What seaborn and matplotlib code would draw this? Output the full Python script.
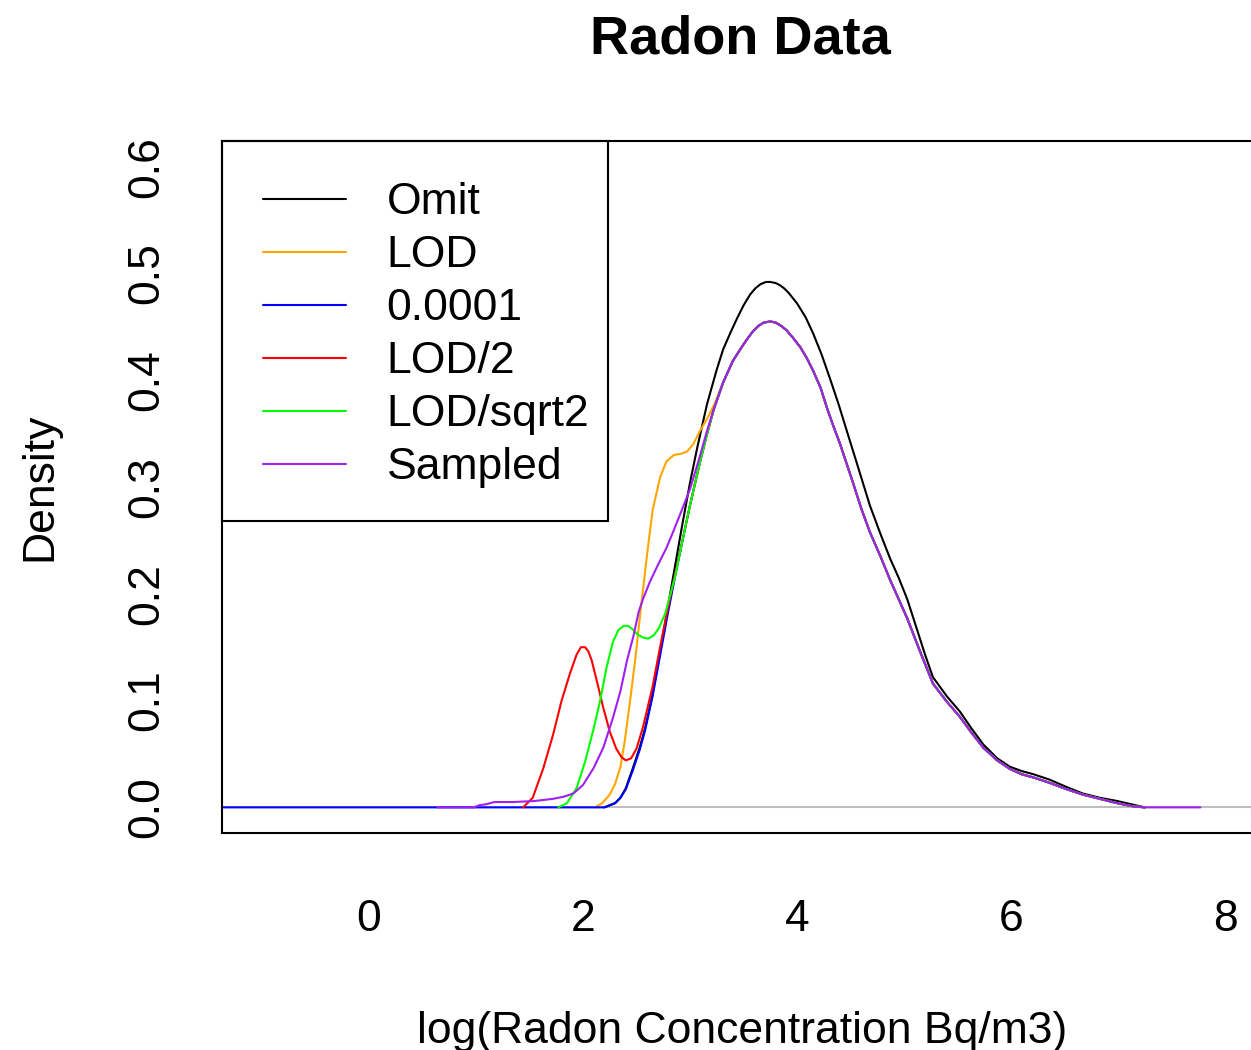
import matplotlib
matplotlib.use("Agg")
import matplotlib.pyplot as plt
from matplotlib.lines import Line2D
from matplotlib.patches import Rectangle
import numpy as np
import pandas as pd
import seaborn as sns

# ---------------- data ----------------
series_names = ["Omit", "LOD", "0.0001", "LOD/2", "LOD/sqrt2", "Sampled"]
series_colors = ["#000000", "#FFA500", "#0000FF", "#FF0000", "#00FF00", "#A020F0"]

# common main body shared by all imputed series (x >= 3.31)
body_x = [3.31, 3.40, 3.47, 3.53, 3.59, 3.64, 3.69, 3.75, 3.80, 3.85, 3.90, 3.96, 4.03, 4.09, 4.15,
          4.22, 4.28, 4.34, 4.40, 4.47, 4.52, 4.60, 4.68, 4.78, 4.87, 4.95, 5.03, 5.15, 5.27,
          5.40, 5.52, 5.63, 5.74, 5.87, 5.99, 6.10, 6.21, 6.36, 6.52, 6.67, 6.83, 6.99, 7.14, 7.25]
body_y = [0.398, 0.418, 0.429, 0.438, 0.446, 0.451, 0.454, 0.455, 0.454, 0.451, 0.447, 0.440, 0.431,
          0.421, 0.409, 0.393, 0.374, 0.357, 0.341, 0.320, 0.305, 0.280, 0.258, 0.235, 0.213, 0.195,
          0.177, 0.146, 0.116, 0.099, 0.085, 0.070, 0.056, 0.044, 0.036, 0.031, 0.028, 0.023, 0.017,
          0.012, 0.008, 0.004, 0.001, 0.000]

omit_x = [2.20, 2.30, 2.35, 2.40, 2.47, 2.53, 2.58, 2.65, 2.72, 2.79, 2.86, 2.93, 3.00, 3.07,
          3.16, 3.25, 3.31, 3.38, 3.44, 3.50, 3.56, 3.61, 3.66, 3.71, 3.75, 3.80, 3.84, 3.88,
          3.92, 3.96, 4.00, 4.08, 4.15, 4.23, 4.31, 4.39, 4.47, 4.56, 4.68, 4.78, 4.87, 4.95,
          5.03, 5.12, 5.20, 5.27, 5.40, 5.52, 5.63, 5.74, 5.87, 5.99, 6.10, 6.21, 6.36, 6.52,
          6.67, 6.83, 6.99, 7.12, 7.25]
omit_y = [0.000, 0.004, 0.009, 0.018, 0.038, 0.056, 0.074, 0.106, 0.146, 0.186, 0.226, 0.266, 0.304, 0.338,
          0.378, 0.410, 0.429, 0.445, 0.458, 0.470, 0.480, 0.486, 0.490, 0.492, 0.492, 0.491, 0.489, 0.486,
          0.482, 0.477, 0.472, 0.459, 0.444, 0.424, 0.401, 0.377, 0.351, 0.322, 0.283, 0.256, 0.233, 0.215,
          0.195, 0.167, 0.142, 0.122, 0.104, 0.090, 0.074, 0.059, 0.046, 0.038, 0.034, 0.031, 0.026, 0.019,
          0.013, 0.009, 0.006, 0.003, 0.000]

lod_x = [2.11, 2.18, 2.25, 2.30, 2.35, 2.39, 2.44, 2.49, 2.53, 2.60, 2.65, 2.72, 2.78, 2.85,
         2.91, 2.97, 3.03, 3.09, 3.16, 3.23]
lod_y = [0.000, 0.004, 0.012, 0.022, 0.038, 0.062, 0.100, 0.140, 0.177, 0.238, 0.278, 0.309, 0.324, 0.330,
         0.331, 0.333, 0.340, 0.352, 0.364, 0.378]

small_x = [-1.50, 2.20, 2.30, 2.35, 2.40, 2.47, 2.53, 2.58, 2.65, 2.72, 2.79, 2.86, 2.93, 3.00,
           3.09, 3.16, 3.22]
small_y = [0.000, 0.000, 0.004, 0.009, 0.017, 0.036, 0.054, 0.072, 0.104, 0.142, 0.180, 0.216, 0.250, 0.283,
           0.322, 0.350, 0.372]

half_x = [1.44, 1.53, 1.63, 1.72, 1.80, 1.88, 1.94, 1.98, 2.02, 2.05, 2.08, 2.13, 2.19, 2.25, 2.31,
          2.36, 2.40, 2.45, 2.50, 2.56, 2.65, 2.72, 2.79, 2.86, 2.93, 3.00, 3.09, 3.16, 3.22]
half_y = [0.000, 0.009, 0.037, 0.068, 0.100, 0.126, 0.143, 0.150, 0.150, 0.146, 0.138, 0.118, 0.093, 0.071,
          0.055, 0.047, 0.044, 0.046, 0.055, 0.075, 0.113, 0.150, 0.185, 0.218, 0.250, 0.283, 0.322,
          0.350, 0.372]

sqrt2_x = [1.77, 1.85, 1.94, 2.02, 2.10, 2.16, 2.22, 2.28, 2.33, 2.38, 2.42, 2.46, 2.51, 2.56,
           2.61, 2.66, 2.71, 2.77, 2.86, 2.93, 3.00, 3.09, 3.16, 3.22]
sqrt2_y = [0.000, 0.004, 0.018, 0.043, 0.074, 0.100, 0.131, 0.155, 0.166, 0.170, 0.170, 0.167, 0.162, 0.159,
           0.158, 0.161, 0.168, 0.182, 0.216, 0.250, 0.283, 0.322, 0.350, 0.372]

sampled_x = [0.64, 0.98, 1.03, 1.10, 1.17, 1.35, 1.55, 1.72, 1.82, 1.91, 2.00, 2.10, 2.19, 2.28,
             2.35, 2.41, 2.47, 2.52, 2.56, 2.62, 2.69, 2.78, 2.83, 2.91, 3.00, 3.09, 3.16, 3.22]
sampled_y = [0.000, 0.000, 0.002, 0.003, 0.005, 0.005, 0.006, 0.008, 0.010, 0.013, 0.021, 0.037, 0.056, 0.084,
             0.109, 0.137, 0.160, 0.183, 0.195, 0.210, 0.225, 0.243, 0.255, 0.275, 0.298, 0.328, 0.353, 0.372]
sampled_tail_x = [7.77]
sampled_tail_y = [0.000]

x_ticks = [0, 2, 4, 6, 8]
y_ticks = [0.0, 0.1, 0.2, 0.3, 0.4, 0.5, 0.6]
y_tick_labels = ["0.0", "0.1", "0.2", "0.3", "0.4", "0.5", "0.6"]

# ---------------- assemble long-form table ----------------
parts = {
    "Omit": (omit_x, omit_y),
    "LOD": (lod_x + body_x, lod_y + body_y),
    "0.0001": (small_x + body_x, small_y + body_y),
    "LOD/2": (half_x + body_x, half_y + body_y),
    "LOD/sqrt2": (sqrt2_x + body_x, sqrt2_y + body_y),
    "Sampled": (sampled_x + body_x + sampled_tail_x, sampled_y + body_y + sampled_tail_y),
}
frames = []
for name in series_names:
    xs, ys = parts[name]
    frames.append(pd.DataFrame({"x": xs, "density": ys, "method": name}))
df = pd.concat(frames, ignore_index=True)

# ---------------- figure ----------------
sns.set_theme(style="white")
plt.rcParams["font.family"] = ["Liberation Sans", "DejaVu Sans"]
plt.rcParams["text.color"] = "black"
plt.rcParams["axes.labelcolor"] = "black"

W, H = 1251, 1050
fig = plt.figure(figsize=(W / 100, H / 100), dpi=100)
ax_left, ax_top, ax_bottom = 222, 141, 833
xmin, xmax = -1.374, 8.31
px_per_unit = 107.0
ax_w = (xmax - xmin) * px_per_unit
ax_h = ax_bottom - ax_top
ax = fig.add_axes([ax_left / W, (H - ax_bottom) / H, ax_w / W, ax_h / H])

ax.axhline(0, color="#BEBEBE", lw=1.5, zorder=1)
sns.lineplot(data=df, x="x", y="density", hue="method", hue_order=series_names,
             palette=dict(zip(series_names, series_colors)), estimator=None, sort=False,
             linewidth=1.5, legend=False, ax=ax, zorder=2)

ax.set_xlim(xmin, xmax)
ax.set_ylim(-0.024, 0.624)
ax.set_xticks(x_ticks)
ax.set_xticklabels([str(t) for t in x_ticks])
ax.set_yticks(y_ticks)
ax.set_yticklabels(y_tick_labels, rotation=90, va="center")
ax.set_xlabel("")
ax.set_ylabel("")
for s in ax.spines.values():
    s.set_visible(True)
    s.set_color("black")
    s.set_linewidth(1.5)
ax.tick_params(axis="both", which="major", direction="out", length=19.5, width=1.5,
               color="black", labelsize=32, labelcolor="black")
ax.tick_params(axis="x", pad=28)
ax.tick_params(axis="y", pad=20)

# legend box (drawn as a rectangle, like R's legend frame)
leg_right, leg_bottom = 608, 521
ax.add_patch(Rectangle((0, 1 - (leg_bottom - ax_top) / ax_h), (leg_right - ax_left) / ax_w,
                       (leg_bottom - ax_top) / ax_h, transform=ax.transAxes, fill=False,
                       edgecolor="black", lw=1.5, zorder=5, clip_on=False))
handles = [Line2D([0], [0], color=c, lw=1.5) for c in series_colors]
leg = ax.legend(handles, series_names, loc="upper left", bbox_to_anchor=(0, 1),
                borderaxespad=0, fontsize=32, frameon=False, handlelength=1.85,
                handletextpad=0.92, labelspacing=0.27, borderpad=0.93)
for t in leg.get_texts():
    t.set_color("black")

fig.text(740 / W, 1 - 53 / H, "Radon Data", ha="center", va="baseline",
         fontsize=39, fontweight="bold", color="black")
fig.text(742 / W, 1 - 1043 / H, "log(Radon Concentration Bq/m3)", ha="center",
         va="baseline", fontsize=32, color="black")
fig.text(60 / W, 1 - 487 / H, "Density", ha="right", va="center", rotation=90,
         fontsize=32, color="black")

fig.savefig("out.png", dpi=100)
